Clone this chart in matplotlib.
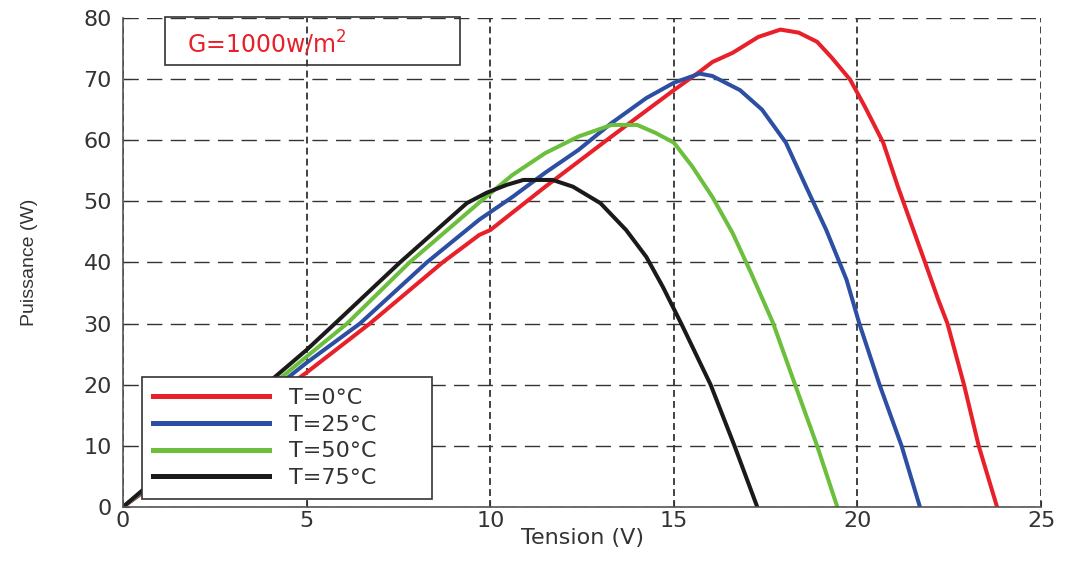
import matplotlib
matplotlib.use('Agg')
import matplotlib.pyplot as plt
from matplotlib.patches import Rectangle

plt.rcParams['font.family'] = ['DejaVu Sans']

# P-V curves, G = 1000 W/m2
v_0 = [0, 2, 5, 6.72, 8.7, 9.7, 10, 11.5, 13.3, 15.0, 15.7, 16.05, 16.6, 17.3, 17.9, 18.4, 18.9, 19.3,
       19.8, 20.2, 20.7, 21.1, 21.84, 22.2, 22.45, 22.9, 23.3, 23.8]
p_0 = [0, 8.8, 22, 30, 40, 44.5, 45.3, 52.4, 60.6, 68.2, 71.2, 72.8, 74.3, 76.9, 78.1, 77.6, 76.1, 73.5,
       69.9, 65.5, 59.6, 52.4, 40, 33.9, 30, 20, 10, 0]

v_25 = [0, 2, 5, 6.45, 8.27, 9.7, 10.6, 11.5, 12.4, 13.3, 14.25, 15.0, 15.7, 16.05, 16.8, 17.4, 18.05,
        18.6, 19.15, 19.7, 20.05, 20.6, 21.2, 21.7]
p_25 = [0, 9.3, 23.6, 30, 40, 47, 50.7, 54.7, 58.4, 62.8, 66.9, 69.4, 70.9, 70.5, 68.2, 65, 59.6,
        52.4, 45.3, 37.2, 30, 20, 10, 0]

v_50 = [0, 2, 5, 6.1, 7.8, 9.7, 10.6, 11.5, 12.4, 13.3, 14.0, 14.5, 15.0, 15.5, 16.05, 16.6, 17.1,
        17.7, 18.3, 18.9, 19.45]
p_50 = [0, 9.8, 24.6, 30, 40, 49.8, 54.3, 57.9, 60.6, 62.5, 62.5, 61.2, 59.6, 55.7, 50.7, 44.8, 38.3,
        30.1, 20, 10, 0]

v_75 = [0, 2, 5, 5.77, 7.54, 9.36, 9.9, 10.45, 10.9, 11.7, 12.25, 13.0, 13.7, 14.25, 14.7, 15.2, 15.6,
        16.0, 16.65, 17.27]
p_75 = [0, 10.3, 25.7, 30, 40, 49.7, 51.4, 52.7, 53.5, 53.5, 52.4, 49.7, 45.3, 40.9, 36, 30, 25,
        20, 10, 0]

labels = ['T=0°C', 'T=25°C', 'T=50°C', 'T=75°C']
colors = ['#e8202a', '#2c4fa3', '#6bbf3c', '#1a1a1a']
txt = '#333333'

fig = plt.figure(figsize=(10.7, 5.62), dpi=100)
ax = fig.add_axes([0.115, 0.098, 0.858, 0.870])

for v, p, lab, c in zip([v_0, v_25, v_50, v_75], [p_0, p_25, p_50, p_75], labels, colors):
    ax.plot(v, p, color=c, lw=2.9, label=lab, solid_joinstyle='round')

ax.set_xlim(0, 25)
ax.set_ylim(0, 80)
ax.set_xticks(range(0, 26, 5))
ax.set_yticks(range(0, 81, 10))
# horizontal dashes look long, vertical ones short
ax.yaxis.grid(True, color='#333333', ls=(0, (11, 6)), lw=1.0)
ax.xaxis.grid(True, color='#333333', ls=(0, (3.8, 2.3)), lw=1.3)
ax.spines['top'].set_visible(False)
ax.spines['right'].set_visible(False)
for s in ['left', 'bottom']:
    ax.spines[s].set_color('#555555')
    ax.spines[s].set_linewidth(1.2)
ax.tick_params(direction='in', labelsize=16, colors=txt, length=5)
ax.tick_params(axis='y', pad=8)
ax.tick_params(axis='x', pad=3)

ax.set_xlabel('Tension (V)', fontsize=16, color=txt, labelpad=-2)
ax.set_ylabel('Puissance (W)', fontsize=14, color=txt, family='Liberation Sans')
ax.yaxis.set_label_coords(-0.093, 0.5)

# irradiance box
ax.add_patch(Rectangle((0.046, 0.904), 0.321, 0.098, transform=ax.transAxes,
                       fill=False, ec='#333333', lw=1.2, clip_on=False, zorder=5))
ax.text(0.07, 0.948, 'G=1000w/m$^2$', transform=ax.transAxes, color='#e8202a',
        fontsize=17, va='center', ha='left')

leg = ax.legend(loc='lower left', bbox_to_anchor=(0.021, 0.016, 0.316, 0.245), mode='expand',
                fontsize=16, handlelength=5.2, labelspacing=0.3, borderpad=0.5,
                handletextpad=0.9, borderaxespad=0, fancybox=False, framealpha=1)
leg.get_frame().set_edgecolor('#333333')
leg.get_frame().set_linewidth(1.2)
for t in leg.get_texts():
    t.set_color(txt)
for h in leg.get_lines():
    h.set_linewidth(3.6)

fig.savefig('out.png', dpi=100)
